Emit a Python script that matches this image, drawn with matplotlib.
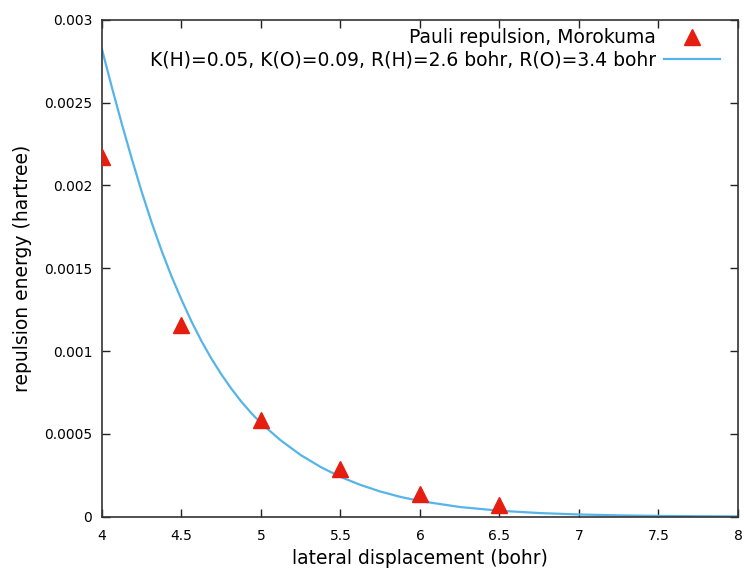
import matplotlib
matplotlib.use('Agg')
import matplotlib.pyplot as plt

# Morokuma Pauli repulsion points
disp = [4.0, 4.5, 5.0, 5.5, 6.0, 6.5]
pauli = [0.00217, 0.00116, 0.000584, 0.000289, 0.000139, 0.000069]

# model curve
fit_x = [4.0, 4.0625, 4.125, 4.1875, 4.25, 4.3125, 4.375, 4.4375, 4.5,
         4.5625, 4.625, 4.6875, 4.75, 4.8125, 4.875, 4.9375, 5.0, 5.125, 5.25,
         5.375, 5.5, 5.625, 5.75, 5.875, 6.0, 6.25, 6.5, 6.75, 7.0, 7.25,
         7.5, 7.75, 8.0]
fit_y = [0.00282, 0.00259, 0.00237, 0.00216, 0.00196, 0.001775, 0.001605,
         0.00145, 0.00131, 0.001179, 0.001061, 0.000955, 0.00086, 0.000774,
         0.000696, 0.000627, 0.000564, 0.000460, 0.000372, 0.000300, 0.000240,
         0.000192, 0.000152, 0.000120, 0.0000945, 0.0000585, 0.0000360,
         0.0000220, 0.0000133, 0.0000080, 0.0000048, 0.0000028, 0.0000017]

xticks = [4, 4.5, 5, 5.5, 6, 6.5, 7, 7.5, 8]
xlabels = ['4', '4.5', '5', '5.5', '6', '6.5', '7', '7.5', '8']
yticks = [0, 0.0005, 0.001, 0.0015, 0.002, 0.0025, 0.003]
ylabels = ['0', '0.0005', '0.001', '0.0015', '0.002', '0.0025', '0.003']

fig = plt.figure(figsize=(7.44, 5.72), dpi=100)
ax = fig.add_axes([0.1371, 0.0967, 0.8548, 0.8689])

ax.plot(disp, pauli, linestyle='none', marker='^', markersize=12,
        color='#e51e10', label='Pauli repulsion, Morokuma', zorder=3)
ax.plot(fit_x, fit_y, color='#56b4e9', linewidth=1.6,
        label='K(H)=0.05, K(O)=0.09, R(H)=2.6 bohr, R(O)=3.4 bohr', zorder=2)

ax.set_xlim(4, 8)
ax.set_ylim(0, 0.003)
ax.set_xticks(xticks)
ax.set_xticklabels(xlabels)
ax.set_yticks(yticks)
ax.set_yticklabels(ylabels)
ax.tick_params(direction='in', length=5.5, width=1, labelsize=10,
               top=True, right=True, colors='#222222', labelcolor='black', pad=7)
ax.tick_params(axis='x', pad=9)
for s in ax.spines.values():
    s.set_color('#333333')
    s.set_linewidth(1.2)

ax.set_xlabel('lateral displacement (bohr)', fontsize=13.5, labelpad=4)
ax.set_ylabel('repulsion energy (hartree)', fontsize=13.5, labelpad=9)

ax.legend(loc='upper right', bbox_to_anchor=(0.972, 0.983), frameon=False,
          markerfirst=False, fontsize=13.5, handlelength=3.0,
          handletextpad=0.43, labelspacing=0.2, borderaxespad=0,
          borderpad=0, numpoints=1)

plt.savefig('out.png', dpi=100)
